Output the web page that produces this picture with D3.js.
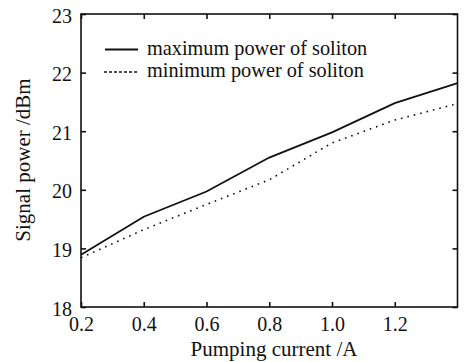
<!DOCTYPE html>
<html>
<head>
<meta charset="utf-8">
<script src="https://cdn.jsdelivr.net/npm/d3@7"></script>
<style>
  html, body { margin: 0; padding: 0; background: #fff; }
  svg { display: block; }
  text { font-family: "Liberation Serif", "Times New Roman", serif; fill: #111; }
</style>
</head>
<body>
<svg id="chart" width="467" height="362"></svg>
<script>
// Pumping current (A) and measured signal power (dBm)
const current = [0.2, 0.4, 0.6, 0.8, 1.0, 1.2, 1.4];
const maxPower = [18.89, 19.54, 19.97, 20.55, 20.98, 21.48, 21.82];
const minPower = [18.84, 19.32, 19.75, 20.17, 20.80, 21.19, 21.47];
const xTicks = [0.2, 0.4, 0.6, 0.8, 1.0, 1.2];
const yTicks = [18, 19, 20, 21, 22, 23];
const seriesNames = ["maximum power of soliton", "minimum power of soliton"];

const svg = d3.select("#chart");
const m = { left: 81, right: 457.5, top: 14, bottom: 307 };

const x = d3.scaleLinear().domain([0.2, 1.4]).range([m.left, m.right]);
const y = d3.scaleLinear().domain([18, 23]).range([m.bottom, m.top]);

const tickLen = 5;
const tickFont = 20;
const labelFont = 21;
const legendFont = 20.3;

// Bottom axis with labels
const gx = svg.append("g").attr("transform", `translate(0,${m.bottom})`)
  .call(d3.axisBottom(x).tickValues(xTicks).tickFormat(d3.format(".1f"))
    .tickSizeInner(-tickLen).tickSizeOuter(0).tickPadding(24));
// Left axis with labels
const gy = svg.append("g").attr("transform", `translate(${m.left},0)`)
  .call(d3.axisLeft(y).tickValues(yTicks).tickFormat(d3.format("d"))
    .tickSizeInner(-tickLen).tickSizeOuter(0).tickPadding(9));
// Mirrored ticks on top and right
const gt = svg.append("g").attr("transform", `translate(0,${m.top})`)
  .call(d3.axisTop(x).tickValues(xTicks).tickFormat("")
    .tickSizeInner(-tickLen).tickSizeOuter(0));
const gr = svg.append("g").attr("transform", `translate(${m.right},0)`)
  .call(d3.axisRight(y).tickValues(yTicks).tickFormat("")
    .tickSizeInner(-tickLen).tickSizeOuter(0));

[gx, gy, gt, gr].forEach(g => {
  g.select(".domain").remove();
  g.selectAll(".tick line").attr("stroke", "#111").attr("stroke-width", 1.6);
  g.selectAll("text").attr("font-size", tickFont)
    .attr("font-family", "Liberation Serif, Times New Roman, serif").attr("fill", "#111");
});
gx.selectAll("text").attr("dy", "0");
gy.selectAll("text").attr("dy", "0.4em");

// Frame
svg.append("rect")
  .attr("x", m.left).attr("y", m.top)
  .attr("width", m.right - m.left).attr("height", m.bottom - m.top)
  .attr("fill", "none").attr("stroke", "#111").attr("stroke-width", 1.6);

// Series lines
const line = d3.line().x((d, i) => x(current[i])).y(d => y(d));
svg.append("path").datum(maxPower)
  .attr("d", line).attr("fill", "none")
  .attr("stroke", "#111").attr("stroke-width", 1.8);
svg.append("path").datum(minPower)
  .attr("d", line).attr("fill", "none")
  .attr("stroke", "#111").attr("stroke-width", 1.6)
  .attr("stroke-dasharray", "1.6,5");

// Legend
const legend = svg.append("g");
const lgLineY = [49.5, 72];
const lgTextY = [54.5, 77];
legend.append("line").attr("x1", 105).attr("x2", 138).attr("y1", lgLineY[0]).attr("y2", lgLineY[0])
  .attr("stroke", "#111").attr("stroke-width", 1.8);
legend.append("line").attr("x1", 104).attr("x2", 138).attr("y1", lgLineY[1]).attr("y2", lgLineY[1])
  .attr("stroke", "#111").attr("stroke-width", 1.6).attr("stroke-dasharray", "3,2");
seriesNames.forEach((name, i) => {
  legend.append("text").attr("x", 147).attr("y", lgTextY[i])
    .attr("font-size", legendFont).text(name);
});

// Axis titles
svg.append("text")
  .attr("x", 274).attr("y", 356)
  .attr("text-anchor", "middle").attr("font-size", labelFont)
  .text("Pumping current /A");
svg.append("text")
  .attr("transform", `translate(30,160) rotate(-90)`)
  .attr("text-anchor", "middle").attr("font-size", labelFont)
  .text("Signal power /dBm");
</script>
</body>
</html>
